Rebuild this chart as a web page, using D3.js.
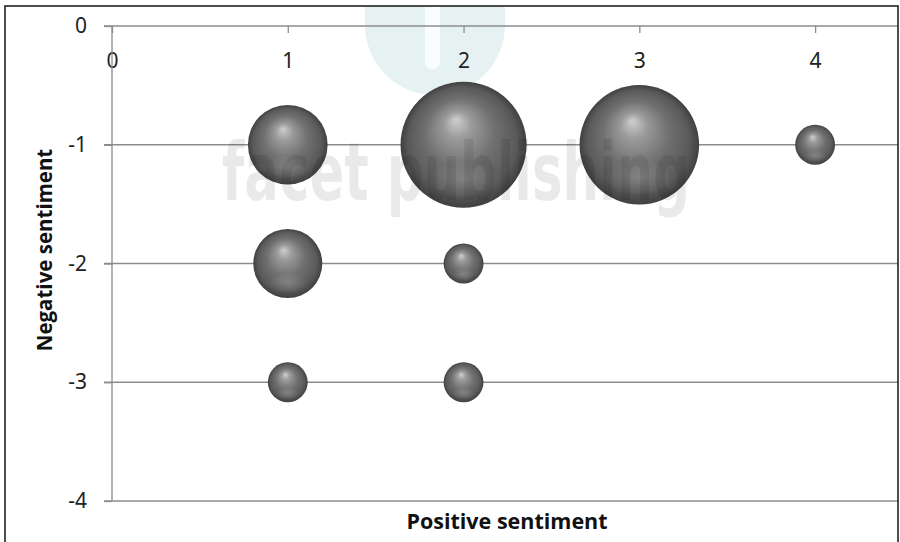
<!DOCTYPE html>
<html>
<head>
<meta charset="utf-8">
<script src="https://cdn.jsdelivr.net/npm/d3@7"></script>
<style>
  html, body { margin: 0; padding: 0; background: #fff; }
  svg { display: block; }
</style>
</head>
<body>
<svg id="chart" width="900" height="542"></svg>
<script>
// Sentiment bubbles: positive score (x), negative score (y), count (bubble area)
const positive = [1, 2, 3, 4, 1, 2, 1, 2];
const negative = [-1, -1, -1, -1, -2, -2, -3, -3];
const counts   = [4, 10, 9, 1, 3, 1, 1, 1];
const xTicks = [0, 1, 2, 3, 4];
const yTicks = [0, -1, -2, -3, -4];

const svg = d3.select("#chart");
const W = 900, H = 542;

const x = d3.scaleLinear().domain([0, 4.5]).range([112, 903]);
const y = d3.scaleLinear().domain([0, -4]).range([26, 501]);
const r = d3.scaleSqrt().domain([0, 10]).range([0, 63]);

const defs = svg.append("defs");
const grad = defs.append("radialGradient")
  .attr("id", "ball").attr("cx", "0.5").attr("cy", "0.5").attr("r", "0.5")
  .attr("fx", "0.44").attr("fy", "0.3");
[[0, "#cfcfcf"], [0.22, "#9a9a9a"], [0.55, "#707070"], [0.85, "#5a5a5a"], [1, "#404040"]]
  .forEach(([o, c]) => grad.append("stop").attr("offset", o).attr("stop-color", c));
const refl = defs.append("radialGradient")
  .attr("id", "refl").attr("cx", "0.5").attr("cy", "0.5").attr("r", "0.5");
[[0, "#ffffff", 0.18], [1, "#ffffff", 0]]
  .forEach(([o, c, a]) => refl.append("stop").attr("offset", o).attr("stop-color", c).attr("stop-opacity", a));
defs.append("clipPath").attr("id", "frameClip")
  .append("rect").attr("x", 5).attr("y", 6).attr("width", 893).attr("height", H);

// publisher mark behind the plot
const mark = svg.append("g").attr("clip-path", "url(#frameClip)");
mark.append("path")
  .attr("d", "M365,-10 L365,25 A70,70 0 0 0 505,25 L505,-10 Z")
  .attr("fill", "#e6f2f2");
mark.append("path")
  .attr("d", "M425,-10 L425,62 A7.5,7.5 0 0 0 440,62 L440,-10 Z")
  .attr("fill", "#fafdfd");

const plot = svg.append("g").attr("clip-path", "url(#frameClip)");

// horizontal gridlines with outer ticks
plot.append("g").selectAll("line")
  .data(yTicks.filter(v => v !== 0))
  .join("line")
  .attr("x1", 104).attr("x2", W)
  .attr("y1", d => y(d)).attr("y2", d => y(d))
  .attr("stroke", "#8c8c8c").attr("stroke-width", 1.3);

// x axis along the top (y = 0)
const xAxis = plot.append("g").attr("transform", `translate(0,${y(0)})`)
  .call(d3.axisBottom(x).tickValues(xTicks).tickSize(7).tickPadding(20).tickFormat(d3.format("d")));
xAxis.select(".domain").attr("d", `M104,0H${W}`).attr("stroke", "#8c8c8c").attr("stroke-width", 1.3);
xAxis.selectAll(".tick line").attr("stroke", "#8c8c8c").attr("stroke-width", 1.3);
xAxis.selectAll(".tick text")
  .attr("font-family", "'Noto Sans', sans-serif").attr("font-size", 21).attr("fill", "#222");

// y axis
const yAxis = plot.append("g").attr("transform", `translate(${x(0)},0)`)
  .call(d3.axisLeft(y).tickValues(yTicks).tickSize(8).tickPadding(17).tickFormat(d3.format("d")));
yAxis.select(".domain").attr("d", `M0,${y(0)}V${y(-4)}`).attr("stroke", "#8c8c8c").attr("stroke-width", 1.3);
yAxis.selectAll(".tick line").attr("stroke", "#8c8c8c").attr("stroke-width", 1.3);
yAxis.selectAll(".tick text")
  .attr("font-family", "'Noto Sans', sans-serif").attr("font-size", 21).attr("fill", "#222")
  .text(d => d < 0 ? "-" + Math.abs(d) : d);

// bubbles
const pts = positive.map((p, i) => ({ p, n: negative[i], c: counts[i] }));
const balls = plot.append("g").selectAll("g").data(pts).join("g");
balls.append("circle")
  .attr("cx", d => x(d.p)).attr("cy", d => y(d.n)).attr("r", d => r(d.c))
  .attr("fill", "url(#ball)");
balls.append("ellipse")
  .attr("cx", d => x(d.p)).attr("cy", d => y(d.n) + r(d.c) * 0.55)
  .attr("rx", d => r(d.c) * 0.55).attr("ry", d => r(d.c) * 0.3)
  .attr("fill", "url(#refl)");

// publisher name overlay
svg.append("text")
  .attr("x", 222).attr("y", 200)
  .attr("font-family", "'DejaVu Sans', sans-serif").attr("font-weight", "bold").attr("font-size", 80)
  .attr("textLength", 468).attr("lengthAdjust", "spacingAndGlyphs")
  .attr("fill", "#000").attr("fill-opacity", 0.085)
  .text("facet publishing");

// axis titles
svg.append("text")
  .attr("x", 507).attr("y", 529).attr("text-anchor", "middle")
  .attr("font-family", "'Open Sans', sans-serif").attr("font-weight", "bold").attr("font-size", 21.5)
  .attr("fill", "#111")
  .text("Positive sentiment");
svg.append("text")
  .attr("transform", "translate(52,250) rotate(-90)").attr("text-anchor", "middle")
  .attr("font-family", "'Open Sans', sans-serif").attr("font-weight", "bold").attr("font-size", 20.5)
  .attr("fill", "#111")
  .text("Negative sentiment");

// outer frame
svg.append("rect")
  .attr("x", 5).attr("y", 6).attr("width", 893).attr("height", H + 10)
  .attr("fill", "none").attr("stroke", "#222").attr("stroke-width", 1.6);
</script>
</body>
</html>
